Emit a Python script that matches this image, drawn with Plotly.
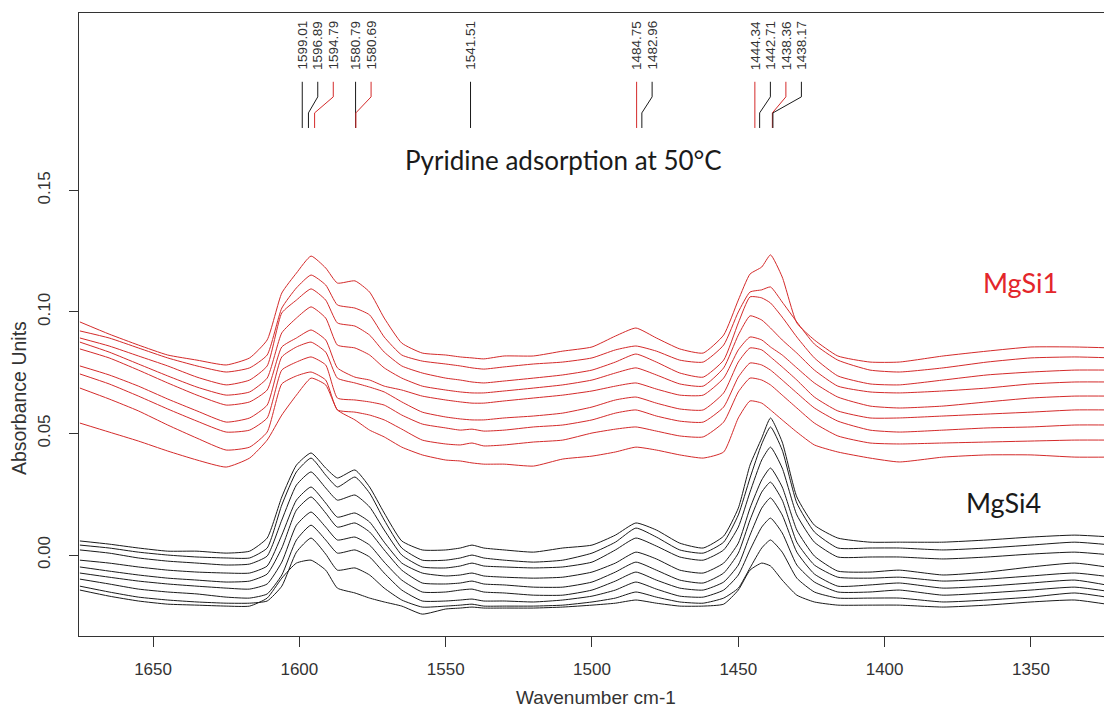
import plotly.graph_objects as go

# wavenumber grid (cm-1) the spectra were read at
wavenumber = [1675, 1665, 1655, 1645, 1635, 1625, 1617, 1611, 1606, 1601,
              1596, 1591, 1587, 1581, 1576, 1571, 1565, 1558, 1550, 1545,
              1541, 1537, 1530, 1520, 1510, 1500, 1492, 1485, 1478, 1470,
              1462, 1455, 1450, 1446, 1442, 1439, 1435, 1430, 1424, 1416,
              1405, 1395, 1380, 1365, 1350, 1335, 1322]

# MgSi1 spectra (red), top to bottom
mgsi1_1 = [0.0959, 0.0909, 0.0864, 0.0823, 0.0802, 0.0782, 0.0811, 0.0885, 0.1078, 0.1160,
           0.1230, 0.1181, 0.1119, 0.1128, 0.1082, 0.0975, 0.0872, 0.0831, 0.0823, 0.0815,
           0.0811, 0.0807, 0.0819, 0.0819, 0.0839, 0.0856, 0.0901, 0.0934, 0.0893, 0.0848,
           0.0831, 0.0905, 0.1049, 0.1156, 0.1185, 0.1235, 0.1144, 0.0955, 0.0885, 0.0819,
           0.0794, 0.0794, 0.0819, 0.0839, 0.0856, 0.0856, 0.0852]
mgsi1_2 = [0.0922, 0.0893, 0.0852, 0.0811, 0.0778, 0.0753, 0.0770, 0.0823, 0.1016, 0.1099,
           0.1152, 0.1111, 0.1029, 0.1016, 0.0988, 0.0897, 0.0823, 0.0798, 0.0786, 0.0778,
           0.0770, 0.0765, 0.0774, 0.0786, 0.0794, 0.0811, 0.0844, 0.0860, 0.0839, 0.0802,
           0.0794, 0.0864, 0.1000, 0.1082, 0.1091, 0.1103, 0.1041, 0.0959, 0.0868, 0.0802,
           0.0761, 0.0753, 0.0770, 0.0794, 0.0811, 0.0815, 0.0811]
mgsi1_3 = [0.0893, 0.0860, 0.0819, 0.0778, 0.0732, 0.0700, 0.0720, 0.0778, 0.0996, 0.1049,
           0.1095, 0.1049, 0.0955, 0.0942, 0.0905, 0.0835, 0.0778, 0.0749, 0.0728, 0.0720,
           0.0712, 0.0708, 0.0716, 0.0728, 0.0741, 0.0761, 0.0794, 0.0827, 0.0794, 0.0749,
           0.0732, 0.0802, 0.0955, 0.1062, 0.1058, 0.1037, 0.0979, 0.0897, 0.0811, 0.0737,
           0.0704, 0.0700, 0.0720, 0.0741, 0.0753, 0.0761, 0.0761]
mgsi1_4 = [0.0876, 0.0835, 0.0786, 0.0737, 0.0691, 0.0658, 0.0671, 0.0728, 0.0914, 0.0975,
           0.1021, 0.0975, 0.0864, 0.0852, 0.0823, 0.0770, 0.0728, 0.0695, 0.0679, 0.0671,
           0.0667, 0.0667, 0.0675, 0.0687, 0.0700, 0.0720, 0.0749, 0.0770, 0.0741, 0.0704,
           0.0695, 0.0770, 0.0905, 0.0984, 0.0967, 0.0934, 0.0885, 0.0831, 0.0761, 0.0695,
           0.0671, 0.0667, 0.0675, 0.0687, 0.0704, 0.0712, 0.0712]
mgsi1_5 = [0.0848, 0.0811, 0.0761, 0.0708, 0.0658, 0.0617, 0.0630, 0.0679, 0.0856, 0.0893,
           0.0926, 0.0885, 0.0770, 0.0732, 0.0720, 0.0695, 0.0679, 0.0654, 0.0638, 0.0630,
           0.0625, 0.0625, 0.0634, 0.0646, 0.0658, 0.0675, 0.0695, 0.0708, 0.0683, 0.0658,
           0.0658, 0.0728, 0.0844, 0.0897, 0.0885, 0.0856, 0.0823, 0.0770, 0.0708, 0.0650,
           0.0613, 0.0605, 0.0613, 0.0630, 0.0646, 0.0654, 0.0654]
mgsi1_6 = [0.0778, 0.0741, 0.0695, 0.0642, 0.0593, 0.0547, 0.0564, 0.0617, 0.0815, 0.0856,
           0.0876, 0.0835, 0.0728, 0.0708, 0.0691, 0.0671, 0.0630, 0.0588, 0.0568, 0.0560,
           0.0556, 0.0556, 0.0564, 0.0572, 0.0584, 0.0609, 0.0638, 0.0650, 0.0625, 0.0601,
           0.0597, 0.0667, 0.0794, 0.0852, 0.0844, 0.0815, 0.0774, 0.0720, 0.0650, 0.0593,
           0.0564, 0.0564, 0.0572, 0.0580, 0.0588, 0.0597, 0.0597]
mgsi1_7 = [0.0745, 0.0704, 0.0654, 0.0601, 0.0551, 0.0506, 0.0514, 0.0564, 0.0761, 0.0794,
           0.0815, 0.0782, 0.0646, 0.0638, 0.0630, 0.0617, 0.0576, 0.0539, 0.0523, 0.0514,
           0.0518, 0.0510, 0.0514, 0.0527, 0.0535, 0.0556, 0.0584, 0.0597, 0.0572, 0.0551,
           0.0547, 0.0609, 0.0732, 0.0790, 0.0782, 0.0761, 0.0720, 0.0667, 0.0605, 0.0551,
           0.0514, 0.0506, 0.0514, 0.0523, 0.0527, 0.0535, 0.0535]
mgsi1_8 = [0.0687, 0.0642, 0.0593, 0.0535, 0.0481, 0.0432, 0.0444, 0.0506, 0.0704, 0.0737,
           0.0753, 0.0720, 0.0597, 0.0588, 0.0576, 0.0556, 0.0518, 0.0473, 0.0457, 0.0453,
           0.0461, 0.0449, 0.0453, 0.0465, 0.0473, 0.0502, 0.0518, 0.0527, 0.0510, 0.0490,
           0.0486, 0.0547, 0.0671, 0.0728, 0.0720, 0.0700, 0.0658, 0.0605, 0.0543, 0.0490,
           0.0461, 0.0457, 0.0461, 0.0465, 0.0469, 0.0473, 0.0473]
mgsi1_9 = [0.0543, 0.0506, 0.0469, 0.0428, 0.0391, 0.0362, 0.0399, 0.0473, 0.0576, 0.0658,
           0.0728, 0.0700, 0.0597, 0.0556, 0.0514, 0.0486, 0.0444, 0.0412, 0.0391, 0.0387,
           0.0379, 0.0374, 0.0374, 0.0366, 0.0395, 0.0407, 0.0424, 0.0444, 0.0432, 0.0412,
           0.0399, 0.0424, 0.0564, 0.0634, 0.0625, 0.0597, 0.0556, 0.0506, 0.0453, 0.0424,
           0.0399, 0.0383, 0.0403, 0.0412, 0.0412, 0.0403, 0.0403]

# MgSi4 spectra (black), top to bottom
mgsi4_1 = [0.0058, 0.0045, 0.0029, 0.0016, 0.0016, 0.0008, 0.0016, 0.0070, 0.0239, 0.0370,
           0.0420, 0.0358, 0.0317, 0.0350, 0.0280, 0.0173, 0.0058, 0.0021, 0.0021, 0.0029,
           0.0041, 0.0029, 0.0021, 0.0012, 0.0029, 0.0041, 0.0082, 0.0132, 0.0103, 0.0049,
           0.0029, 0.0078, 0.0193, 0.0370, 0.0481, 0.0564, 0.0465, 0.0239, 0.0123, 0.0070,
           0.0053, 0.0053, 0.0053, 0.0062, 0.0074, 0.0082, 0.0074]
mgsi4_2 = [0.0041, 0.0029, 0.0012, 0.0000, -0.0008, -0.0012, -0.0012, 0.0029, 0.0206, 0.0342,
           0.0399, 0.0329, 0.0280, 0.0321, 0.0255, 0.0144, 0.0029, -0.0021, -0.0021, -0.0012,
           0.0000, -0.0012, -0.0021, -0.0029, -0.0021, 0.0008, 0.0053, 0.0111, 0.0074, 0.0021,
           0.0008, 0.0053, 0.0165, 0.0317, 0.0457, 0.0527, 0.0432, 0.0214, 0.0095, 0.0029,
           0.0029, 0.0029, 0.0021, 0.0029, 0.0041, 0.0053, 0.0041]
mgsi4_3 = [0.0021, 0.0008, -0.0012, -0.0025, -0.0033, -0.0041, -0.0037, -0.0004, 0.0144, 0.0288,
           0.0342, 0.0276, 0.0226, 0.0247, 0.0198, 0.0103, 0.0000, -0.0049, -0.0053, -0.0045,
           -0.0033, -0.0045, -0.0049, -0.0053, -0.0049, -0.0029, 0.0021, 0.0070, 0.0037, -0.0008,
           -0.0021, 0.0021, 0.0115, 0.0259, 0.0391, 0.0444, 0.0358, 0.0165, 0.0053, -0.0008,
           -0.0008, -0.0008, -0.0016, -0.0008, 0.0004, 0.0012, 0.0000]
mgsi4_4 = [-0.0021, -0.0033, -0.0049, -0.0062, -0.0070, -0.0074, -0.0074, -0.0045, 0.0082, 0.0226,
           0.0280, 0.0214, 0.0156, 0.0173, 0.0136, 0.0053, -0.0033, -0.0074, -0.0086, -0.0082,
           -0.0074, -0.0086, -0.0091, -0.0095, -0.0091, -0.0070, -0.0033, 0.0012, -0.0016, -0.0062,
           -0.0074, -0.0033, 0.0049, 0.0193, 0.0309, 0.0358, 0.0280, 0.0103, -0.0004, -0.0066,
           -0.0070, -0.0062, -0.0082, -0.0070, -0.0049, -0.0033, -0.0053]
mgsi4_5 = [-0.0049, -0.0066, -0.0082, -0.0095, -0.0103, -0.0111, -0.0107, -0.0078, 0.0029, 0.0185,
           0.0239, 0.0173, 0.0115, 0.0132, 0.0095, 0.0021, -0.0062, -0.0115, -0.0119, -0.0115,
           -0.0107, -0.0119, -0.0123, -0.0132, -0.0132, -0.0111, -0.0070, -0.0029, -0.0062, -0.0103,
           -0.0115, -0.0074, 0.0008, 0.0144, 0.0259, 0.0300, 0.0226, 0.0053, -0.0041, -0.0091,
           -0.0095, -0.0091, -0.0107, -0.0099, -0.0086, -0.0074, -0.0091]
mgsi4_6 = [-0.0074, -0.0091, -0.0107, -0.0119, -0.0128, -0.0136, -0.0140, -0.0119, -0.0029, 0.0123,
           0.0177, 0.0115, 0.0062, 0.0074, 0.0041, -0.0029, -0.0103, -0.0152, -0.0152, -0.0144,
           -0.0140, -0.0152, -0.0156, -0.0165, -0.0165, -0.0144, -0.0107, -0.0070, -0.0103, -0.0136,
           -0.0144, -0.0111, -0.0041, 0.0082, 0.0193, 0.0235, 0.0165, 0.0012, -0.0078, -0.0128,
           -0.0123, -0.0115, -0.0136, -0.0128, -0.0115, -0.0103, -0.0128]
mgsi4_7 = [-0.0099, -0.0119, -0.0140, -0.0152, -0.0160, -0.0173, -0.0177, -0.0160, -0.0082, 0.0062,
           0.0123, 0.0062, 0.0008, 0.0021, -0.0008, -0.0074, -0.0144, -0.0189, -0.0189, -0.0185,
           -0.0181, -0.0189, -0.0189, -0.0193, -0.0185, -0.0169, -0.0144, -0.0111, -0.0140, -0.0169,
           -0.0173, -0.0144, -0.0082, 0.0021, 0.0115, 0.0152, 0.0091, -0.0041, -0.0111, -0.0152,
           -0.0152, -0.0144, -0.0165, -0.0156, -0.0144, -0.0132, -0.0152]
mgsi4_8 = [-0.0128, -0.0152, -0.0173, -0.0185, -0.0193, -0.0198, -0.0198, -0.0189, -0.0128, 0.0012,
           0.0070, 0.0004, -0.0062, -0.0053, -0.0082, -0.0136, -0.0185, -0.0214, -0.0210, -0.0206,
           -0.0202, -0.0210, -0.0210, -0.0210, -0.0206, -0.0193, -0.0177, -0.0152, -0.0173, -0.0193,
           -0.0198, -0.0177, -0.0136, -0.0053, 0.0029, 0.0062, 0.0012, -0.0095, -0.0152, -0.0177,
           -0.0177, -0.0177, -0.0193, -0.0185, -0.0173, -0.0156, -0.0177]
mgsi4_9 = [-0.0144, -0.0169, -0.0189, -0.0202, -0.0206, -0.0210, -0.0210, -0.0177, -0.0095, -0.0033,
           -0.0021, -0.0062, -0.0136, -0.0156, -0.0177, -0.0193, -0.0210, -0.0243, -0.0222, -0.0218,
           -0.0214, -0.0218, -0.0218, -0.0218, -0.0214, -0.0206, -0.0198, -0.0185, -0.0198, -0.0210,
           -0.0210, -0.0202, -0.0144, -0.0062, -0.0033, -0.0045, -0.0103, -0.0165, -0.0193, -0.0206,
           -0.0206, -0.0206, -0.0214, -0.0206, -0.0193, -0.0185, -0.0206]

mgsi1 = [mgsi1_1, mgsi1_2, mgsi1_3, mgsi1_4, mgsi1_5, mgsi1_6, mgsi1_7, mgsi1_8, mgsi1_9]
mgsi4 = [mgsi4_1, mgsi4_2, mgsi4_3, mgsi4_4, mgsi4_5, mgsi4_6, mgsi4_7, mgsi4_8, mgsi4_9]

# peak picks shown at the top, and which sample they belong to
peak_pos = [1599.01, 1596.89, 1594.79, 1580.79, 1580.69, 1541.51,
            1484.75, 1482.96, 1444.34, 1442.71, 1438.36, 1438.17]
peak_sample = ["MgSi4", "MgSi4", "MgSi1", "MgSi4", "MgSi1", "MgSi4",
               "MgSi1", "MgSi4", "MgSi1", "MgSi4", "MgSi1", "MgSi4"]

RED = "#d42a2a"
BLACK = "#1a1a1a"
AXIS = "#333333"
FONT = "Liberation Sans, Arial, sans-serif"
LABEL_FONT = "Lato, sans-serif"

fig = go.Figure()

for spec in mgsi1:
    fig.add_trace(go.Scatter(x=wavenumber, y=spec, mode="lines",
                             line=dict(color=RED, width=1, shape="spline", smoothing=0.5),
                             hoverinfo="skip", showlegend=False))
for spec in mgsi4:
    fig.add_trace(go.Scatter(x=wavenumber, y=spec, mode="lines",
                             line=dict(color=BLACK, width=1, shape="spline", smoothing=0.5),
                             hoverinfo="skip", showlegend=False))

# spread the labels so they do not overlap, then draw the bent leader lines
GAP = 5.3
label_x = []
for i, p in enumerate(peak_pos):
    label_x.append(p if i == 0 else min(p, label_x[-1] - GAP))

y_top, y_bend1, y_bend2, y_bot = 0.1947, 0.1885, 0.1819, 0.1757
for p, lx, s in zip(peak_pos, label_x, peak_sample):
    col = RED if s == "MgSi1" else BLACK
    fig.add_trace(go.Scatter(x=[lx, lx, p, p], y=[y_top, y_bend1, y_bend2, y_bot],
                             mode="lines", line=dict(color=col, width=1),
                             hoverinfo="skip", showlegend=False))
    fig.add_annotation(x=lx, y=0.1988, text=f"{p:.2f}", showarrow=False,
                       textangle=-90, xanchor="center", yanchor="bottom",
                       font=dict(family=FONT, size=13.5, color=AXIS))


def note(x, y, text, size, color, family, angle=0):
    fig.add_annotation(xref="paper", yref="paper", x=x, y=y, text=text,
                       showarrow=False, textangle=angle,
                       xanchor="center", yanchor="middle",
                       font=dict(family=family, size=size, color=color))


note(0.469, 0.764, "Pyridine adsorption at 50°C", 26, BLACK, LABEL_FONT)
note(0.911, 0.567, "MgSi1", 27, "#e3262b", LABEL_FONT)
note(0.8945, 0.215, "MgSi4", 27, BLACK, LABEL_FONT)

# axis titles (placed like the R original)
note(0.5005, -0.0995, "Wavenumber cm-1", 19, AXIS, FONT)
note(-0.058, 0.382, "Absorbance Units", 19.5, AXIS, FONT, angle=-90)

fig.update_xaxes(
    range=[1675.3, 1322.3],
    tickvals=[1650, 1600, 1550, 1500, 1450, 1400, 1350],
    ticks="outside", ticklen=10, tickcolor=AXIS, tickwidth=1,
    showline=True, linecolor=AXIS, linewidth=1, mirror=True,
    showgrid=False, zeroline=False, ticklabelstandoff=8,
    tickfont=dict(family=FONT, size=17, color=AXIS),
)
fig.update_yaxes(
    range=[-0.0333, 0.2230],
    tickvals=[0.0, 0.05, 0.10, 0.15], ticktext=["0.00", "0.05", "0.10", "0.15"],
    tickangle=-90,
    ticks="outside", ticklen=9, tickcolor=AXIS, tickwidth=1,
    showline=True, linecolor=AXIS, linewidth=1, mirror=False,
    showgrid=False, zeroline=False, ticklabelstandoff=12,
    tickfont=dict(family=FONT, size=17, color=AXIS),
)
# the page puts the figure 8px in from the top-left corner
fig.update_layout(
    width=1104, height=701,
    margin=dict(l=71, r=0, t=5, b=73),
    paper_bgcolor="white", plot_bgcolor="white",
    showlegend=False,
)

fig.write_html("out.html")
